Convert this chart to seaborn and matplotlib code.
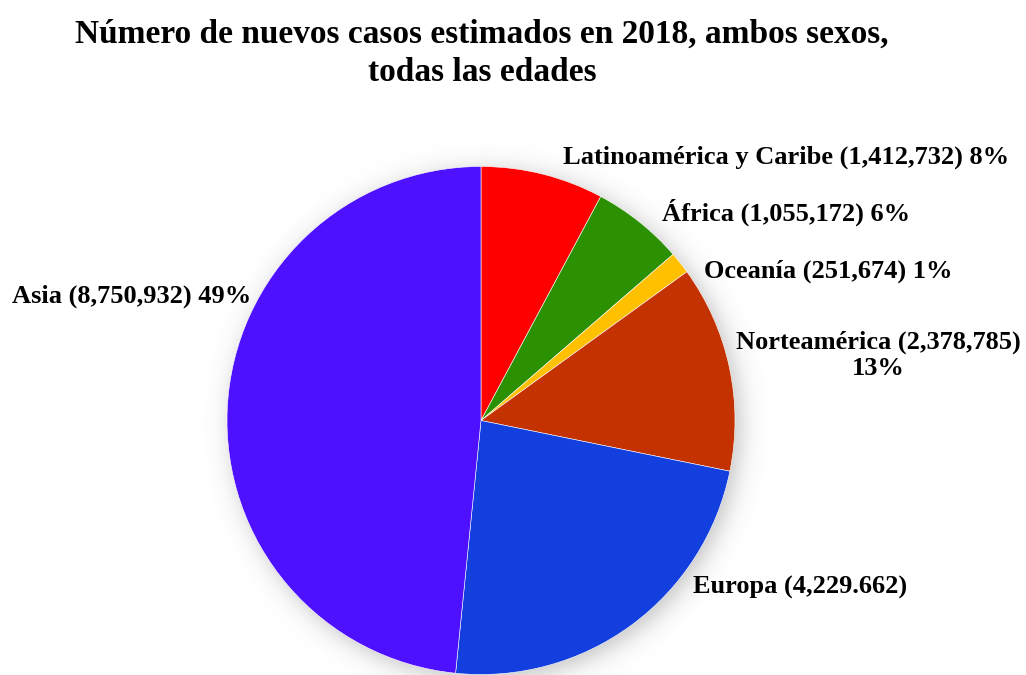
import numpy as np
import matplotlib
matplotlib.use("Agg")
import matplotlib.pyplot as plt
import seaborn as sns

# New cases estimated in 2018, both sexes, all ages (clockwise from the top)
regiones = ["Latinoamérica y Caribe", "África", "Oceanía", "Norteamérica", "Europa", "Asia"]
casos = [1412732, 1055172, 251674, 2378785, 4229662, 8750932]
etiquetas = [
    "Latinoamérica y Caribe (1,412,732) 8%",
    "África (1,055,172) 6%",
    "Oceanía (251,674) 1%",
    "Norteamérica (2,378,785)\n13%",
    "Europa (4,229.662)",
    "Asia (8,750,932) 49%",
]
colores = ["#FF0000", "#2B9103", "#FFC000", "#C33200", "#123FDE", "#4E11FF"]

sns.set_theme(style="white")
plt.rcParams["font.family"] = ["Liberation Serif", "DejaVu Serif"]
plt.rcParams["text.color"] = "black"

W, H = 1026, 675
fig = plt.figure(figsize=(W / 100, H / 100), dpi=100)
ax = fig.add_axes([0, 0, 1, 1])

# pie geometry in pixels
cx, cy, R = 481, 420.5, 254.0

# soft drop shadow behind the pie
n = 600
xs = np.linspace(-1.35, 1.35, n)
X, Y = np.meshgrid(xs, xs)
d = np.hypot(X - 0.02, Y + 0.02)
a = 0.32 / (1 + np.exp((d - 1.0) / 0.028))
rgba = np.zeros((n, n, 4))
rgba[..., :3] = 0.25
rgba[..., 3] = a
ax.imshow(rgba, extent=(-1.35, 1.35, -1.35, 1.35), origin="lower", zorder=0,
          interpolation="bilinear")

ax.pie(casos, colors=colores, startangle=90, counterclock=False, radius=1.0,
       wedgeprops=dict(linewidth=0.4, edgecolor="white"))
for w in ax.patches:
    w.set_zorder(2)
ax.set_xlim(-cx / R, (W - cx) / R)
ax.set_ylim(-(H - cy) / R, cy / R)
ax.set_aspect("auto")
ax.axis("off")

def fx(px):
    return px / W

def fy(py):
    return 1 - py / H

pos = [
    (563, 157, "left"),
    (662, 212, "left"),
    (704, 271, "left"),
    (878, 355, "center"),
    (693, 587, "left"),
    (12, 296, "left"),
]
for txt, (px, py, ha) in zip(etiquetas, pos):
    fig.text(fx(px), fy(py), txt, ha=ha, va="center", fontsize=19,
             fontweight="bold", color="black", linespacing=1.17,
             multialignment="center")

fig.text(fx(482), fy(53), "Número de nuevos casos estimados en 2018, ambos sexos,\ntodas las edades",
         ha="center", va="center", fontsize=24, fontweight="bold", linespacing=1.3,
         color="black")

fig.savefig("out.png", dpi=100, facecolor="white")
